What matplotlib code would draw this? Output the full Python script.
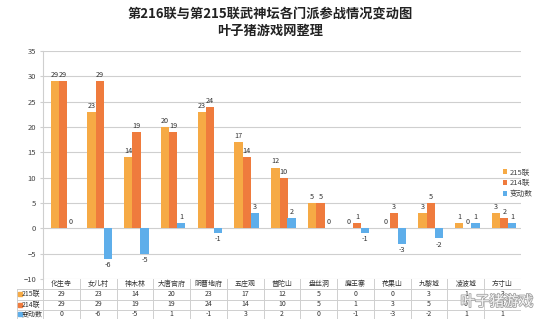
import numpy as np
import matplotlib
matplotlib.use("Agg")
import matplotlib.pyplot as plt
import matplotlib.patheffects as pe

plt.rcParams['font.family'] = ['Noto Sans CJK SC', 'DejaVu Sans']

# data
schools = ["化生寺", "女儿村", "神木林", "大唐官府", "阴曹地府", "五庄观", "普陀山",
           "盘丝洞", "魔王寨", "花果山", "九黎城", "凌波城", "方寸山"]
lm215 = [29, 23, 14, 20, 23, 17, 12, 5, 0, 0, 3, 1, 3]
lm214 = [29, 29, 19, 19, 24, 14, 10, 5, 1, 3, 5, 0, 2]
change = [0, -6, -5, 1, -1, 3, 2, 0, -1, -3, -2, 1, 1]
series_names = ["215联", "214联", "变动数"]
colors = ["#F6AA45", "#EF7B3D", "#5EAEEA"]

W, H = 540, 323
fig = plt.figure(figsize=(5.4, 3.23), dpi=100)

# plot area in pixels
L, R, T, B = 43, 521, 51, 279
ax = fig.add_axes([L / W, 1 - B / H, (R - L) / W, (B - T) / H])

n = len(schools)
x = np.arange(n)
bw = 0.225
offs = [-0.18, 0.045, 0.26]
grid_c = "#cfcfcf"
for vals, off, c in zip([lm215, lm214, change], offs, colors):
    bars = ax.bar(x + off, vals, bw, color=c, zorder=3)
    ax.bar_label(bars, labels=[str(v) for v in vals], fontsize=5.2, color="#333333", padding=1.5)

ax.set_xlim(-0.5, n - 0.5)
ax.set_ylim(-10, 35)
ax.set_yticks(range(-10, 36, 5))
ax.tick_params(axis="y", labelsize=5.5, colors="#444444", length=2, pad=3)
ax.tick_params(axis="y", color=grid_c)
ax.set_xticks([])
ax.grid(axis="y", color=grid_c, linewidth=0.8, zorder=0)
for s in ["top", "right", "bottom"]:
    ax.spines[s].set_visible(False)
ax.spines["left"].set_color(grid_c)

# legend
leg = ax.legend(series_names, loc="center left", bbox_to_anchor=(0.955, 0.42),
                fontsize=5.5, frameon=False, handlelength=0.6, handleheight=0.6,
                handletextpad=0.3, labelspacing=0.35, borderaxespad=0)
for t in leg.get_texts():
    t.set_color("#444444")

# data table drawn under the axis
TL, TB = 17, 319
tab = fig.add_axes([TL / W, 1 - TB / H, (R - TL) / W, (TB - B) / H])
tab.set_xlim(TL, R)
tab.set_ylim(TB, B)
tab.axis("off")
cw = (R - L) / n
rows = [B, 289, 299.5, 309.5, TB]
line_kw = dict(color=grid_c, linewidth=0.7)
for i in range(n + 1):
    tab.plot([L + i * cw] * 2, [B, TB], **line_kw)
tab.plot([TL, TL], [rows[1], TB], **line_kw)
for yy in rows[1:]:
    tab.plot([TL, R], [yy, yy], **line_kw)

for i, s in enumerate(schools):
    tab.text(L + (i + 0.5) * cw, (rows[0] + rows[1]) / 2, s, ha="center", va="center",
             fontsize=5, color="#333333")
for r, (name, vals, c) in enumerate(zip(series_names, [lm215, lm214, change], colors)):
    yc = (rows[r + 1] + rows[r + 2]) / 2
    tab.plot([TL + 2.5], [yc], marker="s", markersize=2.2, color=c, linestyle="none")
    tab.text(TL + 5, yc, name, ha="left", va="center", fontsize=5, color="#333333")
    for i, v in enumerate(vals):
        tab.text(L + (i + 0.5) * cw, yc, str(v), ha="center", va="center",
                 fontsize=5, color="#333333")

fig.text(0.5, 1 - 14 / H, "第216联与第215联武神坛各门派参战情况变动图", ha="center", va="center",
         fontsize=9.5, fontweight="bold", color="#222222")
fig.text(0.5, 1 - 31 / H, "叶子猪游戏网整理", ha="center", va="center",
         fontsize=9.5, fontweight="bold", color="#222222")

# watermark
fig.text(497 / W, 1 - 302 / H, "叶子猪游戏", ha="center", va="center", fontsize=10.5,
         color="white", alpha=0.9,
         path_effects=[pe.withStroke(linewidth=1.2, foreground="#9a9a9a")])

fig.savefig("out.png", dpi=100)
